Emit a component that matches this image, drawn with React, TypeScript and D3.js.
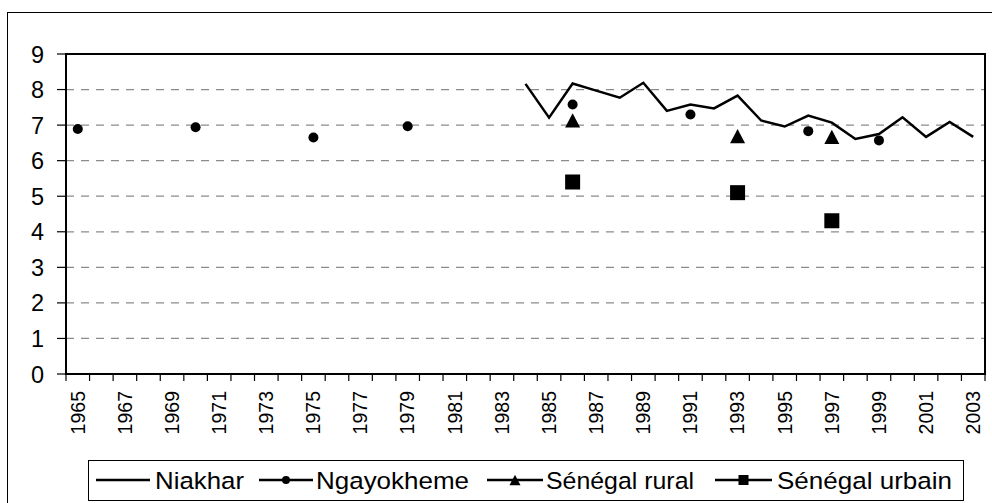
import React from "react";
import * as d3 from "d3";

const years: number[] = d3.range(1965, 2004);
const tickLabelYears: number[] = d3.range(1965, 2004, 2);
const yTicks: number[] = d3.range(0, 10);

const niakharYears = [1984, 1985, 1986, 1987, 1988, 1989, 1990, 1991, 1992, 1993, 1994, 1995, 1996, 1997, 1998, 1999, 2000, 2001, 2002, 2003];
const niakharValues = [8.16, 7.21, 8.17, 7.97, 7.77, 8.19, 7.4, 7.58, 7.47, 7.83, 7.13, 6.96, 7.27, 7.07, 6.61, 6.75, 7.22, 6.67, 7.09, 6.67];

const ngayYears = [1965, 1970, 1975, 1979, 1986, 1991, 1996, 1999];
const ngayValues = [6.89, 6.94, 6.65, 6.97, 7.58, 7.3, 6.83, 6.57];

const ruralYears = [1986, 1993, 1997];
const ruralValues = [7.13, 6.69, 6.67];

const urbainYears = [1986, 1993, 1997];
const urbainValues = [5.4, 5.1, 4.31];

const legendLabels = ["Niakhar", "Ngayokheme", "Sénégal rural", "Sénégal urbain"];

const W = 992;
const H = 503;
const L = 66, R = 985, T = 54, B = 374;
const FONT = "'Liberation Sans', Arial, sans-serif";

const triPath = (size: number) => {
  const w = size, h = size * 0.95;
  return `M0,${-h / 2}L${w / 2},${h / 2}L${-w / 2},${h / 2}Z`;
};

export default function App() {
  const x = d3.scaleBand<number>().domain(years).range([L, R]).padding(0);
  const cx = (yr: number) => (x(yr) as number) + x.bandwidth() / 2;
  const y = d3.scaleLinear().domain([0, 9]).range([B, T]);

  const line = d3
    .line<number>()
    .x((_, i) => cx(niakharYears[i]))
    .y((v) => y(v));

  const boundaries = d3.range(0, years.length + 1).map((i) => L + i * x.step());

  const legendY = 480;
  const legendItems = [
    { x1: 96, x2: 150, tx: 155, tw: 89, marker: "none" },
    { x1: 259, x2: 313, tx: 316, tw: 153, marker: "circle" },
    { x1: 487, x2: 543, tx: 546, tw: 148, marker: "triangle" },
    { x1: 715, x2: 772, tx: 777, tw: 175, marker: "square" },
  ];

  return (
    <svg
      width={W}
      height={H}
      style={{ position: "absolute", left: 0, top: 0, background: "#fff" }}
      fontFamily={FONT}
    >
      <rect x={0} y={0} width={W} height={H} fill="#fff" />
      <rect x={7.5} y={12.5} width={1100} height={600} fill="none" stroke="#000" strokeWidth={1} />

      {/* gridlines */}
      {yTicks.filter((t) => t > 0 && t < 9).map((t) => (
        <line key={"g" + t} x1={L} x2={R} y1={y(t)} y2={y(t)} stroke="#8c8c8c" strokeWidth={1.2} strokeDasharray="8,7" />
      ))}

      {/* plot border */}
      <rect x={L} y={T} width={R - L} height={B - T} fill="none" stroke="#000" strokeWidth={2} />

      {/* y ticks */}
      {yTicks.map((t) => (
        <g key={"y" + t}>
          <line x1={57} x2={L} y1={y(t)} y2={y(t)} stroke="#000" strokeWidth={1.2} />
          <text x={44} y={y(t) + 8.5} textAnchor="end" fontSize={23.5} fill="#000">
            {t}
          </text>
        </g>
      ))}

      {/* x ticks */}
      {boundaries.map((bx, i) => (
        <line key={"xt" + i} x1={bx} x2={bx} y1={B} y2={B + 7} stroke="#000" strokeWidth={1.2} />
      ))}
      {tickLabelYears.map((yr) => (
        <text
          key={"xl" + yr}
          transform={`translate(${cx(yr) + 6.8},391) rotate(-90)`}
          textAnchor="end"
          fontSize={19.5}
          fill="#000"
        >
          {yr}
        </text>
      ))}

      {/* Niakhar line */}
      <path d={line(niakharValues) || ""} fill="none" stroke="#000" strokeWidth={2.5} strokeLinejoin="miter" />

      {/* Ngayokheme */}
      {ngayValues.map((v, i) => (
        <circle key={"n" + i} cx={cx(ngayYears[i])} cy={y(v)} r={5} fill="#000" />
      ))}

      {/* rural */}
      {ruralValues.map((v, i) => (
        <path key={"r" + i} transform={`translate(${cx(ruralYears[i])},${y(v)})`} d={triPath(15)} fill="#000" />
      ))}

      {/* urbain */}
      {urbainValues.map((v, i) => (
        <rect key={"u" + i} x={cx(urbainYears[i]) - 7.5} y={y(v) - 7.5} width={15} height={15} fill="#000" />
      ))}

      {/* legend */}
      <rect x={88.5} y={460.5} width={875} height={40} fill="#fff" stroke="#000" strokeWidth={1} />
      {legendItems.map((it, i) => {
        const mx = (it.x1 + it.x2) / 2;
        return (
          <g key={"l" + i}>
            <line x1={it.x1} x2={it.x2} y1={legendY} y2={legendY} stroke="#000" strokeWidth={2.5} />
            {it.marker === "circle" && <circle cx={mx} cy={legendY} r={4} fill="#000" />}
            {it.marker === "triangle" && (
              <path transform={`translate(${mx},${legendY})`} d={triPath(11)} fill="#000" />
            )}
            {it.marker === "square" && <rect x={mx - 5} y={legendY - 5} width={10} height={10} fill="#000" />}
            <text x={it.tx} y={488.5} fontSize={24.5} fill="#000" textLength={it.tw} lengthAdjust="spacingAndGlyphs">
              {legendLabels[i]}
            </text>
          </g>
        );
      })}
    </svg>
  );
}
